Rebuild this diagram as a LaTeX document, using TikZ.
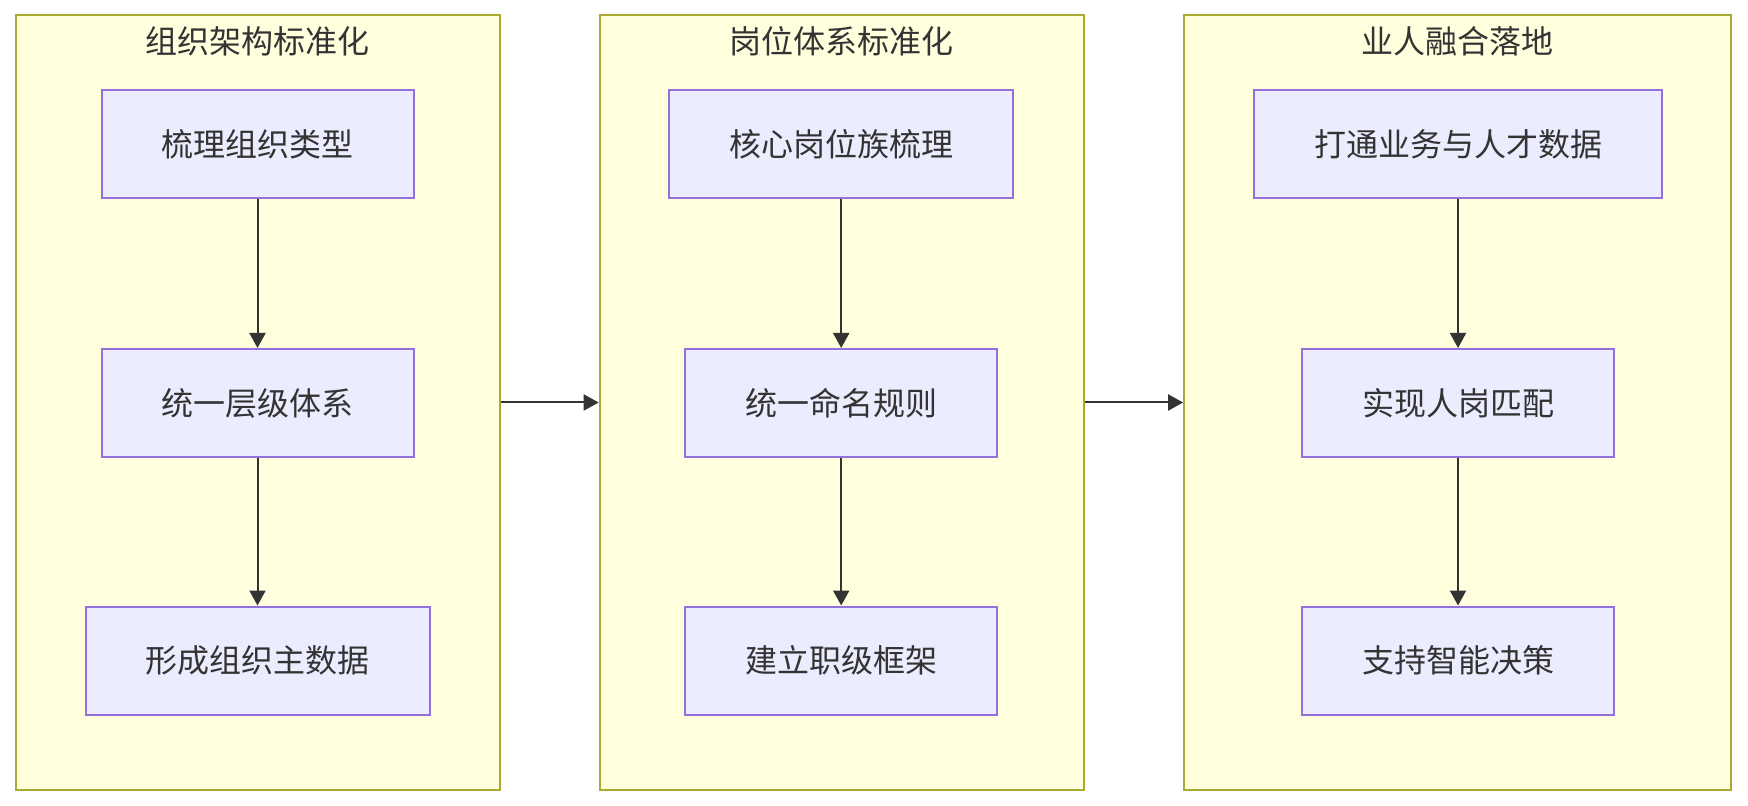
\documentclass[tikz,border=0pt]{standalone}
\usepackage{fontspec}
\newfontfamily\cjk{Noto Sans CJK SC}
\usetikzlibrary{arrows.meta,positioning}
\definecolor{groupfill}{HTML}{FFFFDE}
\definecolor{groupline}{HTML}{AAAA33}
\definecolor{stepfill}{HTML}{ECECFF}
\definecolor{stepline}{HTML}{9370DB}
\definecolor{ink}{HTML}{333333}
\begin{document}
\begin{tikzpicture}[x=0.5pt,y=-0.5pt,
    group/.style={draw=groupline,fill=groupfill,line width=1pt,minimum height=387pt},
    grouptitle/.style={text=ink,font=\cjk\fontsize{16}{19}\selectfont},
    stepbox/.style={draw=stepline,fill=stepfill,line width=1pt,text=ink,
        font=\cjk\fontsize{16}{19}\selectfont,inner xsep=30pt,minimum height=54pt},
    flow/.style={draw=ink,line width=1pt,-{Triangle[length=7.5pt,width=8pt]}}]
    \useasboundingbox (0,0) rectangle (1748,806);
    % Three stages (clusters)
    \node[group,minimum width=242pt] (orgstd) at (257.5,402.5) {};
    \node[group,minimum width=242pt] (poststd) at (841.7,402.5) {};
    \node[group,minimum width=273.5pt] (merge) at (1457.6,402.5) {};
    \node[grouptitle] (orgtitle) at (257.5,41) {组织架构标准化};
    \node[grouptitle] (posttitle) at (841.7,41) {岗位体系标准化};
    \node[grouptitle] (mergetitle) at (1457.6,41) {业人融合落地};
    % Stage 1 steps
    \node[stepbox] (orgtype) at (257.5,144.4) {梳理组织类型};
    \node[stepbox] (orglevel) at (257.5,403) {统一层级体系};
    \node[stepbox] (orgdata) at (257.5,660.5) {形成组织主数据};
    \draw[flow] (orgtype) -- (orglevel);
    \draw[flow] (orglevel) -- (orgdata);
    % Stage 2 steps
    \node[stepbox] (postfamily) at (841.2,144.4) {核心岗位族梳理};
    \node[stepbox] (postname) at (841.2,403) {统一命名规则};
    \node[stepbox] (postrank) at (841.2,660.5) {建立职级框架};
    \draw[flow] (postfamily) -- (postname);
    \draw[flow] (postname) -- (postrank);
    % Stage 3 steps
    \node[stepbox] (bizdata) at (1458,144.4) {打通业务与人才数据};
    \node[stepbox] (postmatch) at (1458,403) {实现人岗匹配};
    \node[stepbox] (decision) at (1458,660.5) {支持智能决策};
    \draw[flow] (bizdata) -- (postmatch);
    \draw[flow] (postmatch) -- (decision);
    % Stage to stage
    \draw[flow] (orgstd) -- (poststd);
    \draw[flow] (poststd) -- (merge);
\end{tikzpicture}
\end{document}
